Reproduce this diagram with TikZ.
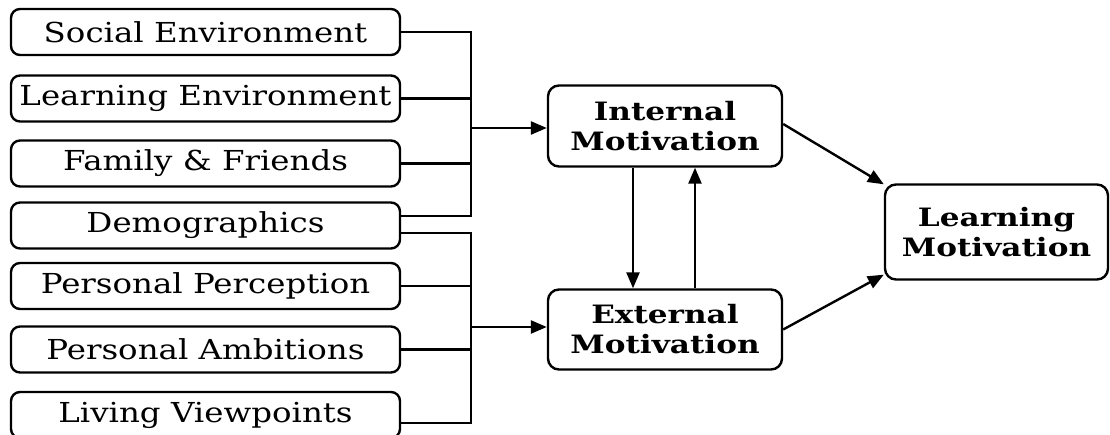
\documentclass[tikz,border=0pt]{standalone}
\usepackage{fontspec}
\newfontfamily\leftfont[FakeStretch=1.18]{DejaVu Serif}
\newfontfamily\motfont[FakeStretch=1.23]{DejaVu Serif}
\usetikzlibrary{arrows.meta}
\begin{document}
\begin{tikzpicture}[x=1pt,y=-1pt,
  src/.style={draw, line width=2.4pt, rounded corners=9pt, minimum width=389pt, minimum height=46pt, inner sep=0pt, font=\leftfont\fontsize{27.5}{30}\selectfont},
  mot/.style={draw, line width=2.4pt, rounded corners=11pt, inner sep=0pt, align=center, font=\motfont\bfseries\fontsize{25.3}{30}\selectfont},
  conn/.style={line width=2.4pt},
  arr/.style={line width=2.4pt, -{Triangle[length=16pt,width=13pt]}}]
\useasboundingbox (0,0) rectangle (1110,435);
\node[src] (s1) at (205.5,32) {Social Environment};
\node[src] (s2) at (205.5,98.5) {Learning Environment};
\node[src] (s3) at (205.5,163.5) {Family \& Friends};
\node[src] (s4) at (205.5,225.5) {Demographics};
\node[src] (s5) at (205.5,286) {Personal Perception};
\node[src] (s6) at (205.5,349.5) {Personal Ambitions};
\node[src] (s7) at (205.5,415) {Living Viewpoints};
\node[mot, minimum width=234pt, minimum height=81pt] (im) at (665,126) {Internal\\Motivation};
\node[mot, minimum width=234pt, minimum height=80pt] (ex) at (665,329.5) {External\\Motivation};
\node[mot, minimum width=223pt, minimum height=95pt] (lm) at (996.5,232) {Learning\\Motivation};
\coordinate (ju) at (471,128);
\coordinate (jl) at (471,327);
\draw[conn] (s1.east) -- (s1.east -| ju) -- ([yshift=9.5pt]s4.east -| ju) -- ([yshift=9.5pt]s4.east);
\draw[conn] (s2.east) -- (s2.east -| ju);
\draw[conn] (s3.east) -- (s3.east -| ju);
\draw[arr] (ju) -- (im.west |- ju);
\draw[conn] ([yshift=-7.5pt]s4.east) -- ([yshift=-7.5pt]s4.east -| jl) -- ([yshift=-8pt]s7.east -| jl) -- ([yshift=-8pt]s7.east);
\draw[conn] (s5.east) -- (s5.east -| jl);
\draw[conn] (s6.east) -- (s6.east -| jl);
\draw[arr] (jl) -- (ex.west |- jl);
\draw[arr] ([xshift=-32pt]im.south) -- ([xshift=-32pt]ex.north);
\draw[arr] ([xshift=30pt]ex.north) -- ([xshift=30pt]im.south);
\draw[arr] ([yshift=2pt]im.east) -- ([yshift=-1pt]lm.north west);
\draw[arr] (ex.east) -- ([yshift=6pt]lm.south west);
\end{tikzpicture}
\end{document}
